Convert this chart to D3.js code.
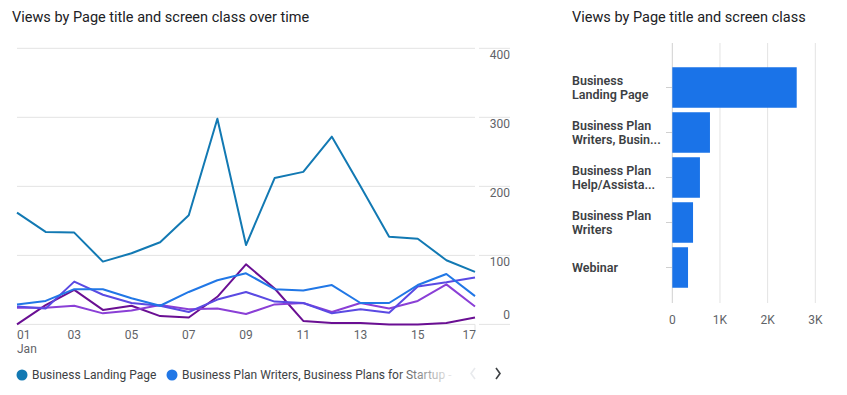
<!DOCTYPE html>
<html>
<head>
<meta charset="utf-8">
<script src="https://cdn.jsdelivr.net/npm/d3@7"></script>
<style>
  html, body { margin: 0; padding: 0; background: #fff; }
  svg { display: block; font-family: Roboto, "Noto Sans", sans-serif; }
</style>
</head>
<body>
<svg id="chart" width="847" height="395"></svg>
<script>
// ---------- data ----------
const days = ["01","02","03","04","05","06","07","08","09","10","11","12","13","14","15","16","17"];
const xTickLabels = ["01","03","05","07","09","11","13","15","17"];
const yTicks = [0, 100, 200, 300, 400];

const landingPage   = [162,134,133,91,103,119,158,298,115,212,221,272,200,127,124,93,76];
const writersStartup = [29,34,51,51,38,27,47,64,74,51,49,57,31,31,57,73,41];
const helpAssist    = [26,23,62,43,31,27,18,36,47,33,31,16,22,17,55,61,68];
const writers       = [24,24,27,16,20,28,22,23,15,29,31,18,31,23,34,58,26];
const webinar       = [0,28,50,21,27,12,10,40,87,52,5,2,2,0,0,2,10];

const seriesNames = ["Business Landing Page",
  "Business Plan Writers, Business Plans for Startup",
  "Business Plan Help/Assistance", "Business Plan Writers", "Webinar"];
const seriesColors = ["#1279b3", "#2177e6", "#5a4ae3", "#8a3fd6", "#6a0f93"];
const seriesValues = [landingPage, writersStartup, helpAssist, writers, webinar];

const barLabels = [["Business","Landing Page"],["Business Plan","Writers, Busin..."],
  ["Business Plan","Help/Assista..."],["Business Plan","Writers"],["Webinar"]];
const barValues = [2610, 790, 580, 435, 330];
const barTicks = [0, 1000, 2000, 3000];

// ---------- drawing ----------
const svg = d3.select("#chart");
const grid = "#e3e3e3", textGray = "#5f6368", dark = "#3c4043";

// titles
svg.append("text").attr("x", 12).attr("y", 22).attr("font-size", 14.5).attr("fill", "#202124")
  .text("Views by Page title and screen class over time");
svg.append("text").attr("x", 572).attr("y", 22).attr("font-size", 14.5).attr("fill", "#202124")
  .text("Views by Page title and screen class");

// line chart scales
const x = d3.scalePoint().domain(days).range([17, 475]);
const y = d3.scaleLinear().domain([0, 400]).range([324.4, 48.3]);

const g = svg.append("g");
yTicks.forEach(t => {
  g.append("line").attr("x1", 17).attr("x2", 475).attr("y1", y(t)).attr("y2", y(t))
    .attr("stroke", grid).attr("stroke-width", 1);
  g.append("line").attr("x1", 479).attr("x2", 510).attr("y1", y(t)).attr("y2", y(t))
    .attr("stroke", grid).attr("stroke-width", 1);
  g.append("text").attr("x", 510).attr("y", t === 0 ? y(t) - 9 : y(t) + 7)
    .attr("text-anchor", "end").attr("dominant-baseline", "central")
    .attr("font-size", 12).attr("fill", textGray).text(t);
});
g.append("line").attr("x1", 475).attr("x2", 475).attr("y1", y(0)).attr("y2", y(0) + 6)
  .attr("stroke", grid);

xTickLabels.forEach((d, i) => {
  const anchor = i === 0 ? "start" : (i === xTickLabels.length - 1 ? "end" : "middle");
  g.append("text").attr("x", x(d) + (i === xTickLabels.length - 1 ? 1 : 0)).attr("y", 335)
    .attr("text-anchor", anchor).attr("dominant-baseline", "central")
    .attr("font-size", 12).attr("fill", textGray).text(d);
});
g.append("text").attr("x", 17).attr("y", 348.5).attr("dominant-baseline", "central")
  .attr("font-size", 12).attr("fill", textGray).text("Jan");

const line = d3.line().x((d, i) => x(days[i])).y(d => y(d));
[4, 3, 2, 1, 0].forEach(si => {
  g.append("path").datum(seriesValues[si]).attr("d", line)
    .attr("fill", "none").attr("stroke", seriesColors[si]).attr("stroke-width", 2)
    .attr("stroke-linejoin", "round");
});

// legend
const defs = svg.append("defs");
const fade = defs.append("linearGradient").attr("id", "fade")
  .attr("gradientUnits", "userSpaceOnUse").attr("x1", 395).attr("x2", 452).attr("y1", 0).attr("y2", 0);
fade.append("stop").attr("offset", 0).attr("stop-color", dark).attr("stop-opacity", 1);
fade.append("stop").attr("offset", 1).attr("stop-color", dark).attr("stop-opacity", 0.1);

const leg = svg.append("g");
leg.append("circle").attr("cx", 22).attr("cy", 375).attr("r", 5.5).attr("fill", seriesColors[0]);
leg.append("text").attr("x", 32).attr("y", 375).attr("dominant-baseline", "central")
  .attr("font-size", 12).attr("fill", dark).text(seriesNames[0]);
leg.append("circle").attr("cx", 172).attr("cy", 375).attr("r", 5.5).attr("fill", seriesColors[1]);
leg.append("text").attr("x", 182).attr("y", 375).attr("dominant-baseline", "central")
  .attr("font-size", 12).attr("fill", "url(#fade)").text(seriesNames[1] + " - Business");
leg.append("rect").attr("x", 452).attr("y", 362).attr("width", 60).attr("height", 26).attr("fill", "#fff");
leg.append("path").attr("d", "M475,368 L471,373.5 L475,379").attr("fill", "none")
  .attr("stroke", "#e8eaed").attr("stroke-width", 1.6);
leg.append("path").attr("d", "M496,368 L500,373.5 L496,379").attr("fill", "none")
  .attr("stroke", "#3c4043").attr("stroke-width", 1.6);

// bar chart
const bx = d3.scaleLinear().domain([0, 3000]).range([672.3, 815.3]);
const by = d3.scaleBand().domain(barValues.map((d, i) => i)).range([65, 290])
  .paddingInner(0.1).paddingOuter(0.05);
const bg = svg.append("g");
barTicks.forEach(t => {
  bg.append("line").attr("x1", bx(t)).attr("x2", bx(t)).attr("y1", 43).attr("y2", 303)
    .attr("stroke", t === 0 ? "#d0d0d0" : grid).attr("stroke-width", 1);
  bg.append("text").attr("x", bx(t)).attr("y", 320).attr("text-anchor", "middle")
    .attr("dominant-baseline", "central").attr("font-size", 12).attr("fill", textGray)
    .text(t === 0 ? "0" : d3.format("d")(t / 1000) + "K");
});
barValues.forEach((v, i) => {
  const cy = by(i) + by.bandwidth() / 2;
  bg.append("line").attr("x1", 666).attr("x2", 672).attr("y1", cy).attr("y2", cy).attr("stroke", "#d0d0d0");
  bg.append("rect").attr("x", bx(0)).attr("y", by(i)).attr("width", bx(v) - bx(0))
    .attr("height", by.bandwidth()).attr("fill", "#1a73e8");
  const lines = barLabels[i];
  lines.forEach((t, k) => {
    bg.append("text").attr("x", 572).attr("y", cy + (k - (lines.length - 1) / 2) * 14)
      .attr("dominant-baseline", "central").attr("font-size", 12.5).attr("font-weight", 600)
      .attr("fill", dark).text(t);
  });
});
</script>
</body>
</html>
